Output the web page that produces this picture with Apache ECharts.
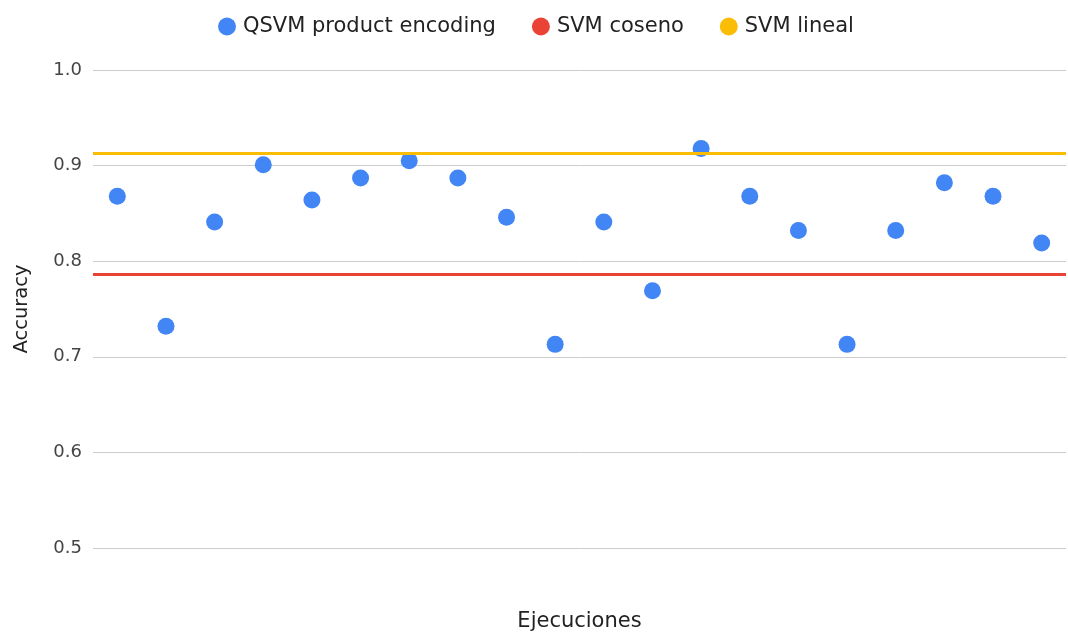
<!DOCTYPE html>
<html>
<head>
<meta charset="utf-8">
<script src="https://cdn.jsdelivr.net/npm/echarts@6/dist/echarts.min.js"></script>
<style>
  html, body { margin: 0; padding: 0; background: #fff; }
  #chart { width: 1068px; height: 632px; }
</style>
</head>
<body>
<div id="chart"></div>
<script>
// Run index (one category per execution)
const runs = ['1','2','3','4','5','6','7','8','9','10','11','12','13','14','15','16','17','18','19','20'];
// QSVM accuracy per run
const qsvmAccuracy = [0.868, 0.732, 0.841, 0.901, 0.864, 0.887, 0.905, 0.887, 0.846, 0.713,
                      0.841, 0.769, 0.918, 0.868, 0.832, 0.713, 0.832, 0.882, 0.868, 0.819];
// Classical baselines (constant across runs)
const svmCosenoAccuracy = 0.786;
const svmLinealAccuracy = 0.913;
// Y axis ticks
const yTicks = [0.5, 0.6, 0.7, 0.8, 0.9, 1.0];

const FONT = '"DejaVu Sans", Roboto, sans-serif';
const chart = echarts.init(document.getElementById('chart'), null, { renderer: 'canvas' });

// Horizontal reference line spanning the whole plot width
function baseline(name, color, value) {
  return {
    name: name,
    type: 'line',
    data: [],
    color: color,
    symbol: 'circle',
    lineStyle: { color: color },
    markLine: {
      silent: true,
      precision: 4,
      symbol: ['none', 'none'],
      label: { show: false },
      lineStyle: { color: color, width: 3, type: 'solid' },
      data: [{ yAxis: value }]
    }
  };
}

chart.setOption({
  animation: false,
  backgroundColor: '#ffffff',
  textStyle: { fontFamily: FONT },
  legend: {
    top: 11,
    left: 213,
    icon: 'circle',
    itemWidth: 18,
    itemHeight: 18,
    itemGap: 36,
    textStyle: { fontFamily: FONT, fontSize: 21, color: '#222', padding: [0, 0, 0, 2] },
    data: ['QSVM product encoding', 'SVM coseno', 'SVM lineal']
  },
  grid: { left: 93, right: 2, top: 70, bottom: 84, containLabel: false, outerBoundsMode: 'none' },
  xAxis: {
    type: 'category',
    data: runs,
    boundaryGap: true,
    name: 'Ejecuciones',
    nameLocation: 'middle',
    nameGap: 63,
    nameTextStyle: { fontFamily: FONT, fontSize: 21, color: '#222' },
    axisLine: { show: false },
    axisTick: { show: false },
    axisLabel: { show: false },
    splitLine: { show: false }
  },
  yAxis: {
    type: 'value',
    min: yTicks[0],
    max: yTicks[yTicks.length - 1],
    interval: 0.1,
    name: 'Accuracy',
    nameLocation: 'middle',
    nameGap: 61,
    nameRotate: 90,
    nameTextStyle: { fontFamily: FONT, fontSize: 19.5, color: '#222' },
    axisLine: { show: false },
    axisTick: { show: false },
    axisLabel: {
      fontFamily: FONT, fontSize: 18, color: '#444', margin: 11,
      formatter: v => v.toFixed(1)
    },
    splitLine: { lineStyle: { color: '#cccccc', width: 1 } }
  },
  series: [
    {
      name: 'QSVM product encoding',
      type: 'scatter',
      data: qsvmAccuracy,
      symbol: 'circle',
      symbolSize: 17,
      itemStyle: { color: '#4285F4', opacity: 1 },
      z: 3
    },
    baseline('SVM coseno', '#EA4335', svmCosenoAccuracy),
    baseline('SVM lineal', '#FBBC04', svmLinealAccuracy)
  ]
});
</script>
</body>
</html>
